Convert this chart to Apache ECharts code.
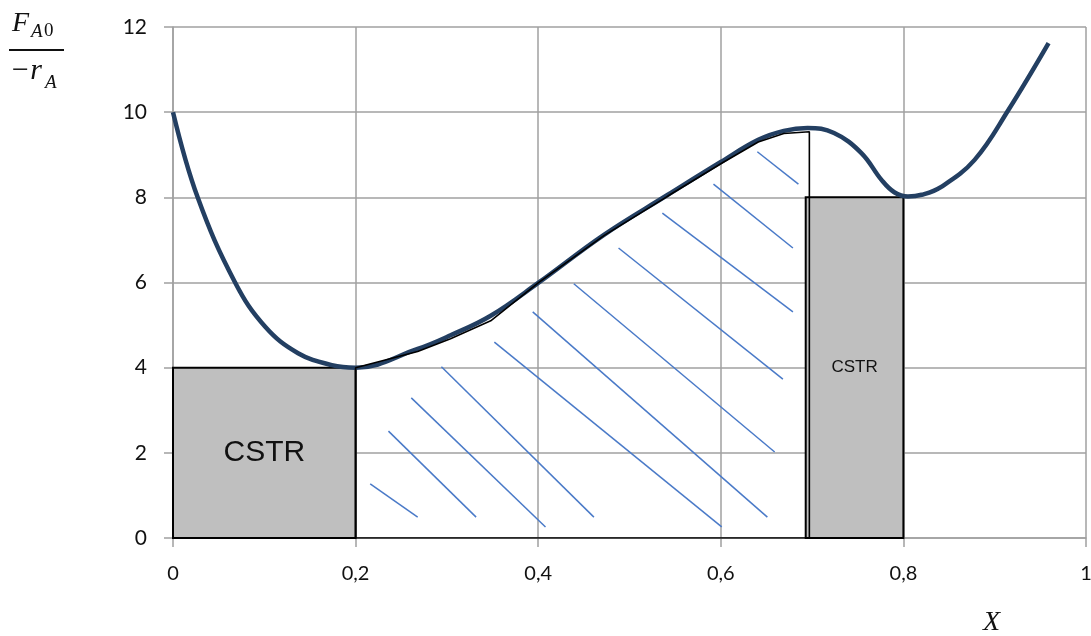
<!DOCTYPE html>
<html>
<head>
<meta charset="utf-8">
<script src="https://cdn.jsdelivr.net/npm/echarts@6/dist/echarts.min.js"></script>
<style>
  html, body { margin: 0; padding: 0; background: #fff; }
  #main { width: 1091px; height: 636px; }
</style>
</head>
<body>
<div id="main"></div>
<script>
// curva F_A0 / -r_A contra X
var curvaX = [0, 0.027, 0.068, 0.101, 0.137, 0.174, 0.2, 0.268, 0.304, 0.348, 0.4, 0.472, 0.542, 0.6, 0.641, 0.669, 0.695, 0.724, 0.754, 0.776, 0.79, 0.805, 0.82, 0.841, 0.878, 0.915, 0.959];
var curvaY = [10, 8.0, 6.0, 4.96, 4.34, 4.06, 4.0, 4.44, 4.76, 5.22, 5.99, 7.12, 8.06, 8.83, 9.35, 9.56, 9.63, 9.51, 9.04, 8.41, 8.12, 8.02, 8.06, 8.24, 8.88, 10.05, 11.62];

// contorno del PFR (linea negra)
var pfrX = [0.2, 0.2, 0.268, 0.304, 0.348, 0.4, 0.472, 0.542, 0.6, 0.641, 0.669, 0.697, 0.697, 0.2];
var pfrY = [0, 4.0, 4.38, 4.68, 5.10, 5.99, 7.10, 8.03, 8.79, 9.30, 9.50, 9.54, 0, 0];

// rectangulos CSTR
var cstrDesde = [0, 0.693];
var cstrHasta = [0.2, 0.8];
var cstrAlto = [4, 8];
var cstrNombre = ['CSTR', 'CSTR'];

// rayado azul: x1, y1, x2, y2
var rayas = [
  [0.216, 1.27, 0.268, 0.49],
  [0.236, 2.51, 0.332, 0.49],
  [0.261, 3.29, 0.408, 0.26],
  [0.294, 4.02, 0.461, 0.49],
  [0.352, 4.60, 0.601, 0.26],
  [0.394, 5.31, 0.651, 0.49],
  [0.439, 5.97, 0.659, 2.02],
  [0.488, 6.81, 0.668, 3.73],
  [0.536, 7.63, 0.679, 5.31],
  [0.592, 8.31, 0.679, 6.81],
  [0.640, 9.07, 0.685, 8.31]
];

var ticksY = [0, 2, 4, 6, 8, 10, 12];

var myChart = echarts.init(document.getElementById('main'));

var curva = [];
for (let i = 0; i < curvaX.length; i++) curva.push([curvaX[i], curvaY[i]]);
var pfr = [];
for (let i = 0; i < pfrX.length; i++) pfr.push([pfrX[i], pfrY[i]]);
var cstr = [];
for (let i = 0; i < cstrDesde.length; i++) cstr.push([cstrDesde[i], cstrHasta[i], cstrAlto[i], i]);

var grisGrid = '#a0a0a0';
var serif = 'Liberation Serif';

option = {
  animation: false,
  backgroundColor: '#ffffff',
  grid: { left: 173, right: 5, top: 27, bottom: 98, outerBoundsMode: 'none', containLabel: false },
  xAxis: {
    type: 'value', min: 0, max: 1, interval: 0.2,
    axisLine: { show: true, lineStyle: { color: grisGrid, width: 1.5 } },
    axisTick: { show: true, length: 9, lineStyle: { color: grisGrid, width: 1.5 } },
    splitLine: { show: true, lineStyle: { color: grisGrid, width: 1.5 } },
    axisLabel: {
      margin: 26, fontSize: 20, color: '#111', fontFamily: 'Lato',
      formatter: function (v) { return String(+v.toFixed(1)).replace('.', ','); }
    }
  },
  yAxis: {
    type: 'value', min: ticksY[0], max: ticksY[ticksY.length - 1], interval: 2,
    axisLine: { show: true, lineStyle: { color: grisGrid, width: 1.5 } },
    axisTick: { show: true, length: 9, lineStyle: { color: grisGrid, width: 1.5 } },
    splitLine: { show: true, lineStyle: { color: grisGrid, width: 1.5 } },
    axisLabel: { margin: 26, fontSize: 21, color: '#111', fontFamily: 'Lato' }
  },
  graphic: [
    {
      type: 'text', x: 12, y: 38,
      style: { text: 'F', fontFamily: serif, fontStyle: 'italic', fontSize: 28, fill: '#111', textVerticalAlign: 'bottom' }
    },
    {
      type: 'text', x: 31, y: 41,
      style: { text: 'A', fontFamily: serif, fontStyle: 'italic', fontSize: 19, fill: '#111', textVerticalAlign: 'bottom' }
    },
    {
      type: 'text', x: 44, y: 41,
      style: { text: '0', fontFamily: serif, fontSize: 19, fill: '#111', textVerticalAlign: 'bottom' }
    },
    { type: 'rect', shape: { x: 9, y: 49, width: 55, height: 2 }, style: { fill: '#111' } },
    {
      type: 'text', x: 10, y: 86,
      style: { text: '\u2212r', fontFamily: serif, fontStyle: 'italic', fontSize: 30, fill: '#111', textVerticalAlign: 'bottom' }
    },
    {
      type: 'text', x: 45, y: 92,
      style: { text: 'A', fontFamily: serif, fontStyle: 'italic', fontSize: 19, fill: '#111', textVerticalAlign: 'bottom' }
    },
    {
      type: 'text', x: 983, y: 609,
      style: { text: 'X', fontFamily: serif, fontStyle: 'italic', fontSize: 28, fill: '#111' }
    }
  ],
  series: [
    {
      name: 'rayado',
      type: 'custom',
      data: rayas,
      z: 2,
      renderItem: function (params, api) {
        var a = api.coord([api.value(0), api.value(1)]);
        var b = api.coord([api.value(2), api.value(3)]);
        return {
          type: 'line',
          shape: { x1: a[0], y1: a[1], x2: b[0], y2: b[1] },
          style: { stroke: '#4a7ac8', lineWidth: 1.5 }
        };
      }
    },
    {
      name: 'CSTR',
      type: 'custom',
      data: cstr,
      z: 3,
      renderItem: function (params, api) {
        var p0 = api.coord([api.value(0), api.value(2)]);
        var p1 = api.coord([api.value(1), 0]);
        var idx = api.value(3);
        return {
          type: 'rect',
          shape: { x: p0[0], y: p0[1], width: p1[0] - p0[0], height: p1[1] - p0[1] },
          style: { fill: '#bfbfbf', stroke: '#000', lineWidth: 2 },
          textContent: {
            style: {
              text: cstrNombre[idx], fill: '#111',
              fontFamily: 'Liberation Sans', fontSize: idx === 0 ? 30 : 17
            }
          },
          textConfig: { position: 'inside' }
        };
      }
    },
    {
      name: 'curva',
      type: 'line',
      data: curva,
      smooth: 0.4,
      showSymbol: false,
      z: 5,
      lineStyle: { color: '#233f62', width: 4.5 }
    },
    {
      name: 'PFR',
      type: 'line',
      data: pfr,
      showSymbol: false,
      z: 6,
      lineStyle: { color: '#000', width: 1.6 }
    }
  ]
};

myChart.setOption(option);
</script>
</body>
</html>
